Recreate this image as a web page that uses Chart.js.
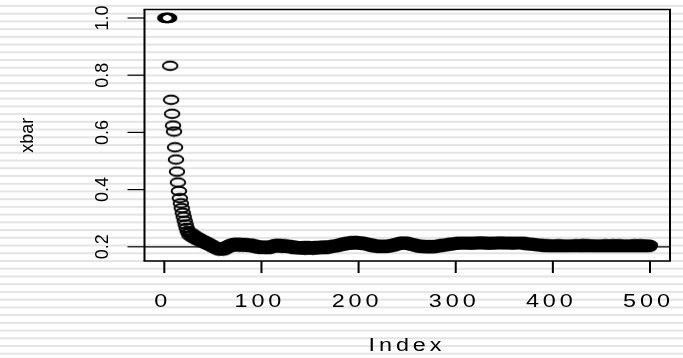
<!DOCTYPE html>
<html>
<head>
<meta charset="utf-8">
<script src="https://cdn.jsdelivr.net/npm/chart.js@4.4.1/dist/chart.umd.min.js"></script>
<style>
  html, body { margin: 0; padding: 0; background: #fff; }
  canvas { display: block; }
</style>
</head>
<body>
<canvas id="plot" width="683" height="358"></canvas>
<script>
// running mean (index 1..500)
const xbar = [
  1, 1, 1, 1, 1, .833, .714, .665, .624, .603,
  .548, .505, .463, .425, .395, .370, .352, .335, .319, .305,
  .291, .278, .266, .255, .248, .239, .250, .241, .232, .243,
  .233, .226, .236, .228, .221, .231, .223, .216, .225, .218,
  .212, .220, .213, .207, .215, .208, .202, .209, .203, .197,
  .204, .198, .192, .199, .193, .187, .193, .188, .194, .190,
  .187, .198, .191, .202, .195, .206, .198, .209, .201, .211,
  .202, .213, .203, .214, .202, .212, .201, .213, .203, .213,
  .201, .211, .202, .212, .200, .210, .201, .211, .201, .209,
  .198, .208, .197, .206, .195, .205, .194, .204, .193, .203,
  .194, .203, .193, .202, .194, .204, .192, .201, .193, .204,
  .197, .207, .198, .209, .199, .208, .199, .210, .198, .208,
  .197, .207, .198, .208, .196, .206, .197, .206, .196, .205,
  .194, .204, .193, .203, .192, .202, .193, .201, .191, .201,
  .191, .201, .192, .202, .190, .200, .192, .202, .191, .201,
  .192, .201, .190, .200, .192, .203, .191, .200, .192, .202,
  .193, .203, .194, .204, .192, .202, .194, .204, .194, .203,
  .196, .205, .197, .207, .198, .206, .199, .208, .200, .210,
  .202, .212, .204, .214, .205, .215, .206, .216, .207, .217,
  .209, .219, .208, .218, .209, .220, .209, .219, .210, .218,
  .208, .218, .207, .217, .207, .216, .206, .214, .205, .213,
  .202, .211, .200, .210, .199, .208, .198, .207, .197, .206,
  .197, .206, .196, .205, .197, .207, .196, .206, .196, .205,
  .198, .207, .199, .209, .201, .210, .202, .212, .204, .213,
  .207, .216, .208, .217, .209, .218, .208, .217, .209, .216,
  .207, .215, .205, .213, .204, .211, .202, .210, .201, .208,
  .198, .207, .197, .206, .196, .205, .197, .206, .195, .204,
  .196, .205, .195, .204, .196, .206, .195, .204, .196, .205,
  .198, .207, .199, .208, .200, .209, .201, .210, .202, .210,
  .203, .212, .204, .213, .205, .214, .206, .214, .207, .215,
  .208, .216, .209, .217, .208, .216, .210, .217, .209, .216,
  .209, .217, .208, .216, .209, .217, .208, .216, .209, .217,
  .209, .217, .210, .218, .209, .217, .210, .218, .209, .217,
  .209, .216, .208, .216, .209, .217, .208, .216, .209, .216,
  .209, .217, .210, .217, .209, .218, .210, .217, .209, .217,
  .209, .216, .210, .217, .209, .216, .209, .217, .208, .216,
  .209, .216, .210, .217, .209, .216, .210, .217, .209, .216,
  .207, .215, .206, .214, .206, .213, .205, .213, .205, .212,
  .204, .211, .203, .210, .202, .210, .202, .209, .201, .208,
  .200, .207, .200, .208, .199, .207, .200, .207, .199, .207,
  .200, .207, .199, .207, .200, .208, .199, .207, .200, .207,
  .199, .206, .200, .207, .199, .207, .200, .206, .199, .207,
  .200, .207, .200, .208, .199, .207, .200, .207, .199, .208,
  .200, .208, .199, .207, .200, .208, .200, .207, .199, .207,
  .200, .207, .199, .207, .200, .207, .199, .206, .200, .207,
  .199, .207, .200, .208, .199, .207, .200, .207, .199, .207,
  .200, .208, .199, .207, .200, .207, .199, .208, .200, .207,
  .199, .207, .200, .207, .199, .206, .200, .207, .199, .207,
  .200, .207, .199, .208, .200, .207, .199, .207, .200, .208,
  .199, .207, .200, .207, .199, .207, .200, .207, .199, .206
];
const xTicks = [0, 100, 200, 300, 400, 500];
const yTicks = [0.2, 0.4, 0.6, 0.8, 1.0];
const yTickLabels = ['0.2', '0.4', '0.6', '0.8', '1.0'];
const refLevel = 0.2;
const xRange = [-20.4, 520.6];
const yRange = [0.1503, 1.0297];

const FONT = '18px "Liberation Sans", Arial, sans-serif';

// R's pch = 1, which looks like a flat ellipse in this picture
const ring = document.createElement('canvas');
ring.width = 20;
ring.height = 12;
(function () {
  const g = ring.getContext('2d');
  g.strokeStyle = '#000';
  g.lineWidth = 1.9;
  g.beginPath();
  g.ellipse(10, 6, 7.3, 4.3, 0, 0, Math.PI * 2);
  g.stroke();
})();

// stretched horizontal text like the picture has
function wideText(ctx, text, cx, baseY, sx, spacing) {
  ctx.save();
  ctx.font = FONT;
  ctx.fillStyle = '#000';
  ctx.letterSpacing = spacing + 'px';
  ctx.textAlign = 'left';
  ctx.textBaseline = 'alphabetic';
  const w = ctx.measureText(text).width - spacing;
  ctx.translate(cx - w * sx / 2, baseY);
  ctx.scale(sx, 1);
  ctx.fillText(text, 0, 0);
  ctx.restore();
}

function upText(ctx, text, baseX, cy) {
  ctx.save();
  ctx.font = FONT;
  ctx.fillStyle = '#000';
  ctx.textAlign = 'center';
  ctx.textBaseline = 'alphabetic';
  ctx.translate(baseX, cy);
  ctx.rotate(-Math.PI / 2);
  ctx.fillText(text, 0, 0);
  ctx.restore();
}

const rLook = {
  id: 'rLook',
  beforeDraw(chart) {
    const ctx = chart.ctx;
    ctx.save();
    ctx.fillStyle = '#fff';
    ctx.fillRect(0, 0, chart.width, chart.height);
    ctx.fillStyle = '#e4e4e4';
    for (let y = 4.9; y < chart.height; y += 7.73) {
      ctx.fillRect(0, y, chart.width, 2);
    }
    ctx.restore();
  },
  afterDraw(chart) {
    const ctx = chart.ctx;
    const a = chart.chartArea;
    const xs = chart.scales.x, ys = chart.scales.y;
    ctx.save();
    ctx.strokeStyle = '#000';

    // box
    ctx.lineWidth = 1.3;
    ctx.beginPath();
    ctx.moveTo(a.left - 1, a.top); ctx.lineTo(a.right + 1, a.top);
    ctx.moveTo(a.left - 1, a.bottom); ctx.lineTo(a.right + 1, a.bottom);
    ctx.stroke();
    ctx.lineWidth = 2;
    ctx.beginPath();
    ctx.moveTo(a.left, a.top); ctx.lineTo(a.left, a.bottom);
    ctx.moveTo(a.right, a.top); ctx.lineTo(a.right, a.bottom);
    ctx.stroke();

    // x axis ticks + labels
    ctx.lineWidth = 2;
    xTicks.forEach(t => {
      const px = xs.getPixelForValue(t);
      ctx.beginPath();
      ctx.moveTo(px, a.bottom);
      ctx.lineTo(px, a.bottom + 12);
      ctx.stroke();
      wideText(ctx, String(t), px - 3.5, 307, 1.3, 3);
    });

    // y axis ticks + labels
    ctx.lineWidth = 1.2;
    yTicks.forEach((t, i) => {
      const py = ys.getPixelForValue(t);
      ctx.beginPath();
      ctx.moveTo(a.left - 17, py);
      ctx.lineTo(a.left, py);
      ctx.stroke();
      upText(ctx, yTickLabels[i], 108, py);
    });

    // axis titles
    wideText(ctx, 'Index', 405, 351, 1.3, 3);
    upText(ctx, 'xbar', 33, (a.top + a.bottom) / 2);
    ctx.restore();
  }
};

new Chart(document.getElementById('plot'), {
  type: 'scatter',
  data: {
    datasets: [
      {
        data: xbar.map((v, i) => ({ x: i + 1, y: v })),
        pointStyle: ring,
        pointRadius: 4,
        showLine: false
      },
      {
        type: 'line',
        data: [{ x: xRange[0], y: refLevel }, { x: xRange[1], y: refLevel }],
        borderColor: '#000',
        borderWidth: 1.2,
        pointRadius: 0,
        fill: false
      }
    ]
  },
  options: {
    responsive: false,
    animation: false,
    events: [],
    layout: { padding: { left: 144.5, right: 13, top: 9.5, bottom: 97 } },
    scales: {
      x: { type: 'linear', min: xRange[0], max: xRange[1], display: false },
      y: { type: 'linear', min: yRange[0], max: yRange[1], display: false }
    },
    plugins: {
      legend: { display: false },
      tooltip: { enabled: false }
    }
  },
  plugins: [rLook]
});
</script>
</body>
</html>
